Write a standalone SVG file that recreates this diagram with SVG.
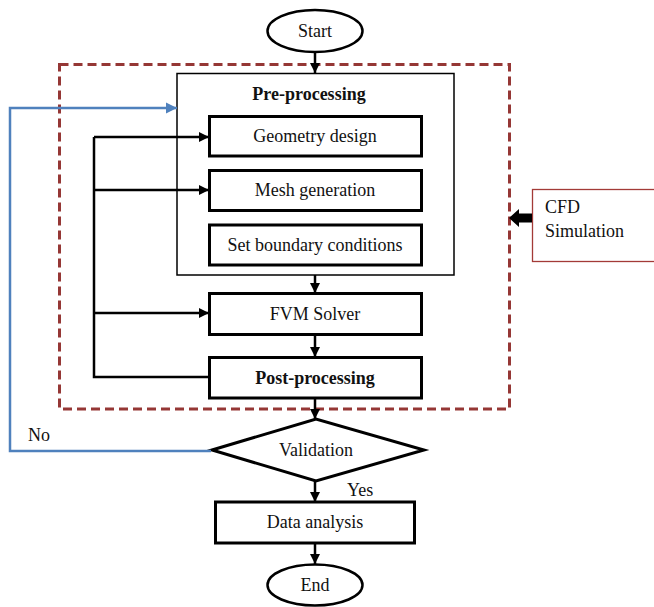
<svg xmlns="http://www.w3.org/2000/svg" width="654" height="607" viewBox="0 0 654 607">
<style>
text{font-family:"Liberation Serif","Times New Roman",serif;font-size:18px;fill:#111}
.c{text-anchor:middle}
.b{font-weight:bold}
.box{fill:#fff;stroke:#000;stroke-width:3}
.thin{fill:#fff;stroke:#000;stroke-width:1.5}
.con{fill:none;stroke:#000;stroke-width:2.5}
.blue{fill:none;stroke:#4f81bd;stroke-width:2.5}
</style>
<defs>
<marker id="ah" viewBox="0 0 10 10" refX="10" refY="5" markerWidth="4" markerHeight="4" markerUnits="strokeWidth" orient="auto">
<path d="M0,0 L10,5 L0,10 z" fill="#000"/>
</marker>
<marker id="bh" viewBox="0 0 10 10" refX="10" refY="5" markerWidth="4.5" markerHeight="4.5" markerUnits="strokeWidth" orient="auto">
<path d="M0,0 L10,5 L0,10 z" fill="#4f81bd"/>
</marker>
</defs>

<g id="cfd-region">
<rect x="59.5" y="64.5" width="450" height="344.5" fill="none" stroke="#953735" stroke-width="3" stroke-dasharray="9,5"/>
</g>

<g id="preprocessing">
<rect class="thin" x="177" y="73.5" width="277" height="201.5"/>
<text class="c b" x="309" y="100">Pre-processing</text>
</g>

<g id="start">
<ellipse cx="315" cy="31" rx="47.5" ry="21" fill="#fff" stroke="#000" stroke-width="2.5"/>
<text class="c" x="315" y="37">Start</text>
</g>

<g id="geometry">
<rect class="box" x="209.5" y="116.5" width="212" height="39.5"/>
<text class="c" x="315" y="142">Geometry design</text>
</g>

<g id="mesh">
<rect class="box" x="209.5" y="170.5" width="212" height="40"/>
<text class="c" x="315" y="196">Mesh generation</text>
</g>

<g id="boundary">
<rect class="box" x="209.5" y="225" width="212" height="40"/>
<text class="c" x="315" y="251">Set boundary conditions</text>
</g>

<g id="fvm">
<rect class="box" x="209.5" y="293.5" width="212" height="41"/>
<text class="c" x="315" y="320">FVM Solver</text>
</g>

<g id="post">
<rect class="box" x="209.5" y="357.5" width="212" height="40.5"/>
<text class="c b" x="315" y="384">Post-processing</text>
</g>

<g id="validation">
<polygon points="212,450 316,419 424,450 316,481" fill="#fff" stroke="#000" stroke-width="3" stroke-linejoin="miter"/>
<text class="c" x="316" y="456">Validation</text>
</g>

<g id="data">
<rect class="box" x="215.5" y="502" width="199" height="41"/>
<text class="c" x="315" y="528">Data analysis</text>
</g>

<g id="end">
<ellipse cx="315" cy="585" rx="47.5" ry="20.5" fill="#fff" stroke="#000" stroke-width="2.5"/>
<text class="c" x="315" y="591">End</text>
</g>

<g id="cfd-label">
<rect x="532.5" y="189.5" width="140" height="72" fill="#fff" stroke="#a33a37" stroke-width="1.3"/>
<text x="545" y="213">CFD</text>
<text x="545" y="237">Simulation</text>
</g>

<g id="connectors">
<path class="con" d="M315,52 V73" marker-end="url(#ah)"/>
<path class="con" d="M315,275 V293" marker-end="url(#ah)"/>
<path class="con" d="M315,335 V357" marker-end="url(#ah)"/>
<path class="con" d="M315,398 V419" marker-end="url(#ah)"/>
<path class="con" d="M315,481 V502" marker-end="url(#ah)"/>
<path class="con" d="M315,543 V564" marker-end="url(#ah)"/>
<path class="con" d="M94,137 V377 H209"/>
<path class="con" d="M94,137 H209" marker-end="url(#ah)"/>
<path class="con" d="M94,190 H209" marker-end="url(#ah)"/>
<path class="con" d="M94,313 H209" marker-end="url(#ah)"/>
<path class="blue" d="M211,451 H10 V108 H177" marker-end="url(#bh)"/>
<polygon points="532,213.5 519,213.5 519,209 509,218 519,227 519,222.5 532,222.5" fill="#000"/>
<text x="28" y="441">No</text>
<text x="347" y="496">Yes</text>
</g>
</svg>
